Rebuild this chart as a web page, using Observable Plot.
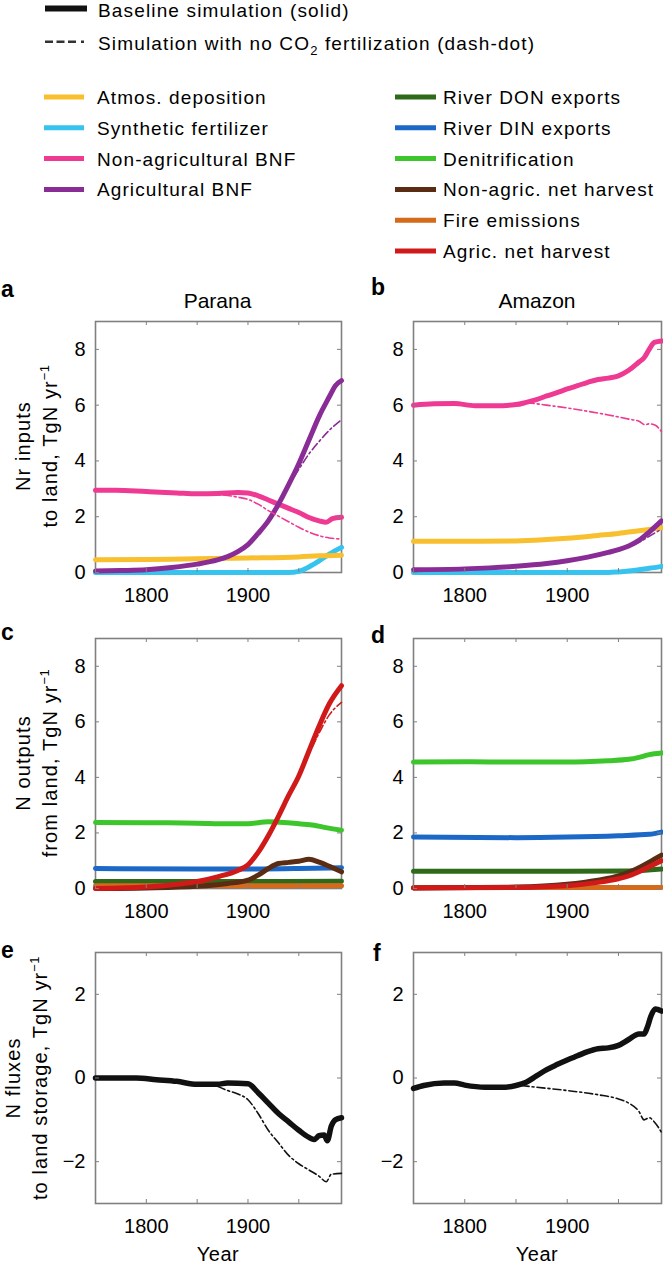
<!DOCTYPE html>
<html><head><meta charset="utf-8">
<script src="https://cdn.jsdelivr.net/npm/d3@7"></script>
<script src="https://cdn.jsdelivr.net/npm/@observablehq/plot@0.6"></script>
<style>
body{margin:0;background:#fff;}
#root{position:relative;width:663px;height:1265px;overflow:hidden;background:#fff;font-family:"Liberation Sans",Arial,Helvetica,sans-serif;color:#000;}
.panel{position:absolute;}
#overlay{position:absolute;left:0;top:0;pointer-events:none;}
</style></head><body><div id="root"></div>
<script>
// ---------- data (year, TgN/yr) ----------
const YEAR_DOMAIN = [1750, 1992];
const X_TICKS = [1750, 1800, 1850, 1900, 1950];
const X_LABELS = [1800, 1900];
const Y_TICKS_FLUX = [0, 2, 4, 6, 8];
const Y_TICKS_STORE = [-2, 0, 2];

// Panel a: Parana inputs
const paranaAtmDep = [[1750,0.46],[1800,0.47],[1850,0.49],[1900,0.52],[1950,0.56],[1970,0.6],[1992,0.62]];
const paranaSynFert = [[1750,0],[1900,0],[1940,0],[1950,0.04],[1960,0.2],[1970,0.42],[1980,0.66],[1992,0.9]];
const paranaNonAgBNF = [[1750,2.95],[1770,2.95],[1800,2.9],[1830,2.85],[1850,2.82],[1870,2.83],[1890,2.87],[1900,2.85],[1910,2.75],[1920,2.6],[1930,2.45],[1940,2.3],[1950,2.15],[1960,1.97],[1970,1.85],[1977,1.8],[1983,1.93],[1992,1.98]];
const paranaNonAgBNF_noCO2 = [[1860,2.82],[1870,2.8],[1880,2.76],[1890,2.7],[1900,2.62],[1910,2.45],[1920,2.22],[1930,2.02],[1940,1.82],[1950,1.62],[1960,1.45],[1970,1.32],[1980,1.24],[1992,1.2]];
const paranaAgBNF = [[1750,0.05],[1775,0.07],[1800,0.1],[1825,0.18],[1850,0.3],[1870,0.45],[1880,0.57],[1890,0.75],[1900,1.0],[1910,1.4],[1920,1.85],[1930,2.45],[1940,3.15],[1950,3.9],[1960,4.75],[1970,5.6],[1980,6.3],[1986,6.7],[1992,6.88]];
const paranaAgBNF_noCO2 = [[1930,2.45],[1940,3.1],[1950,3.7],[1960,4.25],[1970,4.7],[1980,5.1],[1992,5.48]];

// Panel b: Amazon inputs
const amazonAtmDep = [[1750,1.12],[1800,1.12],[1850,1.13],[1880,1.18],[1900,1.23],[1930,1.33],[1950,1.4],[1970,1.5],[1992,1.6]];
const amazonSynFert = [[1750,0],[1940,0],[1950,0.02],[1960,0.05],[1970,0.1],[1980,0.15],[1992,0.22]];
const amazonNonAgBNF = [[1750,6.0],[1770,6.05],[1790,6.06],[1810,5.98],[1830,5.98],[1850,6.02],[1860,6.1],[1870,6.2],[1880,6.33],[1890,6.45],[1900,6.58],[1910,6.7],[1920,6.82],[1930,6.92],[1940,6.97],[1950,7.05],[1960,7.25],[1970,7.55],[1975,7.7],[1980,8.0],[1985,8.25],[1992,8.3]];
const amazonNonAgBNF_noCO2 = [[1860,6.08],[1870,6.05],[1880,6.0],[1900,5.9],[1920,5.78],[1940,5.65],[1960,5.5],[1970,5.42],[1976,5.3],[1980,5.33],[1986,5.28],[1992,5.05]];
const amazonAgBNF = [[1750,0.1],[1800,0.13],[1850,0.22],[1880,0.32],[1900,0.42],[1920,0.55],[1940,0.72],[1950,0.82],[1960,0.95],[1970,1.15],[1980,1.45],[1992,1.85]];
const amazonAgBNF_noCO2 = [[1950,0.82],[1960,0.92],[1970,1.08],[1980,1.3],[1992,1.55]];

// Panel c: Parana outputs
const paranaDenit = [[1750,2.38],[1800,2.37],[1850,2.35],[1880,2.33],[1900,2.33],[1920,2.4],[1935,2.38],[1950,2.33],[1965,2.28],[1975,2.2],[1992,2.1]];
const paranaDIN = [[1750,0.72],[1850,0.7],[1900,0.7],[1950,0.72],[1992,0.75]];
const paranaDON = [[1750,0.25],[1900,0.25],[1992,0.26]];
const paranaFire = [[1750,0.1],[1900,0.1],[1992,0.1]];
const paranaNonAgHarv = [[1750,0],[1800,0.02],[1850,0.08],[1880,0.18],[1900,0.3],[1910,0.48],[1920,0.72],[1930,0.9],[1940,0.94],[1950,0.98],[1960,1.05],[1970,0.95],[1980,0.8],[1992,0.6]];
const paranaAgHarv = [[1750,0],[1800,0.05],[1830,0.15],[1850,0.25],[1870,0.42],[1890,0.65],[1900,0.85],[1910,1.3],[1920,1.9],[1930,2.6],[1940,3.35],[1950,4.05],[1960,4.95],[1970,5.85],[1980,6.65],[1992,7.3]];
const paranaAgHarv_noCO2 = [[1950,4.05],[1960,4.85],[1970,5.6],[1980,6.25],[1992,6.7]];

// Panel d: Amazon outputs
const amazonDenit = [[1750,4.55],[1800,4.56],[1850,4.55],[1900,4.55],[1940,4.6],[1960,4.65],[1970,4.72],[1980,4.82],[1992,4.88]];
const amazonDIN = [[1750,1.85],[1850,1.83],[1900,1.85],[1950,1.9],[1980,1.95],[1992,2.03]];
const amazonDON = [[1750,0.62],[1900,0.62],[1960,0.63],[1992,0.7]];
const amazonFire = [[1750,0.04],[1900,0.04],[1992,0.04]];
const amazonNonAgHarv = [[1750,0.02],[1850,0.05],[1900,0.15],[1930,0.3],[1950,0.45],[1960,0.58],[1970,0.75],[1980,0.95],[1992,1.2]];
const amazonAgHarv = [[1750,0.02],[1850,0.04],[1900,0.1],[1930,0.22],[1950,0.35],[1960,0.45],[1970,0.6],[1980,0.78],[1992,1.0]];

// Panel e: Parana storage
const paranaStorage = [[1750,0],[1770,0],[1790,0],[1810,-0.04],[1830,-0.08],[1850,-0.15],[1870,-0.15],[1880,-0.12],[1900,-0.14],[1910,-0.35],[1920,-0.6],[1930,-0.85],[1940,-1.05],[1950,-1.25],[1960,-1.42],[1965,-1.47],[1970,-1.38],[1975,-1.36],[1978,-1.5],[1982,-1.15],[1986,-1.0],[1992,-0.95]];
const paranaStorage_noCO2 = [[1870,-0.2],[1880,-0.3],[1890,-0.38],[1900,-0.52],[1910,-0.85],[1920,-1.25],[1930,-1.55],[1940,-1.85],[1950,-2.05],[1960,-2.2],[1970,-2.35],[1977,-2.48],[1982,-2.3],[1992,-2.28]];

// Panel f: Amazon storage
const amazonStorage = [[1750,-0.25],[1760,-0.18],[1780,-0.12],[1790,-0.12],[1800,-0.17],[1820,-0.22],[1840,-0.22],[1850,-0.18],[1860,-0.1],[1870,0.05],[1880,0.2],[1890,0.32],[1900,0.43],[1910,0.53],[1920,0.63],[1930,0.7],[1940,0.72],[1950,0.78],[1960,0.92],[1970,1.05],[1975,1.05],[1978,1.2],[1982,1.5],[1986,1.65],[1992,1.6]];
const amazonStorage_noCO2 = [[1855,-0.18],[1870,-0.22],[1900,-0.3],[1930,-0.4],[1950,-0.5],[1960,-0.6],[1970,-0.8],[1975,-1.0],[1980,-0.95],[1985,-1.05],[1992,-1.3]];

// ---------- style ----------
const FONT = '"Liberation Sans", Arial, Helvetica, sans-serif';
const C = {
  atm: "#F8C02F", syn: "#37C3F0", nab: "#EE3A92", ab: "#8A2C96",
  don: "#2F6A1A", din: "#1C68C7", den: "#3DC62C", nah: "#5B2C14",
  fire: "#D46A1C", ah: "#D01A1A", base: "#111111"
};
const FRAME = "#808080";

const panels = [
  {left:0, top:276, ml:95, fw:246, mr:4, mt:45, fh:251, mb:44, yDomain:[0,9], yTicks:Y_TICKS_FLUX,
   solid:[[paranaSynFert,C.syn],[paranaAtmDep,C.atm],[paranaNonAgBNF,C.nab],[paranaAgBNF,C.ab]],
   dashed:[[paranaNonAgBNF_noCO2,C.nab],[paranaAgBNF_noCO2,C.ab]]},
  {left:330, top:276, ml:83, fw:248, mr:2, mt:45, fh:251, mb:44, yDomain:[0,9], yTicks:Y_TICKS_FLUX,
   solid:[[amazonSynFert,C.syn],[amazonAtmDep,C.atm],[amazonNonAgBNF,C.nab],[amazonAgBNF,C.ab]],
   dashed:[[amazonNonAgBNF_noCO2,C.nab],[amazonAgBNF_noCO2,C.ab]]},
  {left:0, top:618, ml:95, fw:246, mr:4, mt:20, fh:250, mb:44, yDomain:[0,9], yTicks:Y_TICKS_FLUX,
   solid:[[paranaDON,C.don],[paranaFire,C.fire],[paranaDIN,C.din],[paranaDenit,C.den],[paranaNonAgHarv,C.nah],[paranaAgHarv,C.ah]],
   dashed:[[paranaAgHarv_noCO2,C.ah]]},
  {left:330, top:618, ml:83, fw:248, mr:2, mt:20, fh:250, mb:44, yDomain:[0,9], yTicks:Y_TICKS_FLUX,
   solid:[[amazonFire,C.fire],[amazonDON,C.don],[amazonDIN,C.din],[amazonDenit,C.den],[amazonNonAgHarv,C.nah],[amazonAgHarv,C.ah]],
   dashed:[]},
  {left:0, top:932, ml:95, fw:246, mr:4, mt:20, fh:251, mb:62, yDomain:[-3,3], yTicks:Y_TICKS_STORE,
   solid:[[paranaStorage,C.base]], dashed:[[paranaStorage_noCO2,C.base]], thick:5.5},
  {left:330, top:932, ml:83, fw:248, mr:2, mt:20, fh:251, mb:62, yDomain:[-3,3], yTicks:Y_TICKS_STORE,
   solid:[[amazonStorage,C.base]], dashed:[[amazonStorage_noCO2,C.base]], thick:5.5}
];

const root = document.getElementById("root");
const fmtY = d => d < 0 ? "\u2212" + Math.abs(d) : String(d);

for (const p of panels) {
  const sw = p.thick || 5;
  const marks = [Plot.frame({stroke: FRAME, strokeWidth: 1.6})];
  for (const [data, color] of p.solid) {
    marks.push(Plot.line(data, {x: d => d[0], y: d => d[1], stroke: color, strokeWidth: sw,
      curve: "monotone-x", strokeLinejoin: "round", strokeLinecap: "round"}));
  }
  for (const [data, color] of p.dashed) {
    marks.push(Plot.line(data, {x: d => d[0], y: d => d[1], stroke: color, strokeWidth: 1.6,
      curve: "monotone-x", strokeDasharray: "8,3,2,3"}));
  }
  marks.push(
    Plot.tickX(X_TICKS, {x: d => d, insetTop: p.fh - 4, stroke: FRAME, strokeWidth: 1}),
    Plot.tickX(X_TICKS, {x: d => d, insetBottom: p.fh - 4, stroke: FRAME, strokeWidth: 1}),
    Plot.tickY(p.yTicks, {y: d => d, insetRight: p.fw - 4, stroke: FRAME, strokeWidth: 1}),
    Plot.tickY(p.yTicks, {y: d => d, insetLeft: p.fw - 4, stroke: FRAME, strokeWidth: 1}),
    Plot.axisX({ticks: X_LABELS, tickSize: 0, tickPadding: 15, tickFormat: d => String(d), label: null, fontSize: 20}),
    Plot.axisY({ticks: p.yTicks, tickSize: 0, tickPadding: 10, tickFormat: fmtY, label: null, fontSize: 20})
  );
  const svg = Plot.plot({
    width: p.ml + p.fw + p.mr, height: p.mt + p.fh + p.mb,
    marginLeft: p.ml, marginRight: p.mr, marginTop: p.mt, marginBottom: p.mb,
    x: {domain: YEAR_DOMAIN}, y: {domain: p.yDomain},
    style: {fontFamily: FONT, fontSize: "20px", background: "transparent", overflow: "visible", color: "#000"},
    marks
  });
  svg.classList.add("panel");
  svg.style.left = p.left + "px";
  svg.style.top = p.top + "px";
  root.appendChild(svg);
}

// ---------- overlay: legend, titles, labels ----------
const ov = d3.select(root).append("svg").attr("id", "overlay")
  .attr("width", 663).attr("height", 1265)
  .style("font-family", FONT);

function txt(x, y, s, o = {}) {
  return ov.append("text").attr("x", x).attr("y", y)
    .attr("font-size", o.size || 19)
    .attr("font-weight", o.weight || null)
    .attr("text-anchor", o.anchor || "start")
    .attr("letter-spacing", o.ls == null ? null : o.ls)
    .attr("fill", "#000").text(s);
}

// legend: line styles
ov.append("line").attr("x1", 45).attr("x2", 87).attr("y1", 8.5).attr("y2", 8.5)
  .attr("stroke", C.base).attr("stroke-width", 6);
txt(98, 16.7, "Baseline simulation (solid)", {ls: 1.15});
ov.append("line").attr("x1", 45).attr("x2", 87).attr("y1", 41.7).attr("y2", 41.7)
  .attr("stroke", "#333").attr("stroke-width", 2.6).attr("stroke-dasharray", "8,3.5,8,3.5,8,5,3,3");
const t2 = txt(98, 49.5, "Simulation with no CO", {ls: 1.15});
t2.append("tspan").attr("dy", 5).attr("font-size", 13).text("2");
t2.append("tspan").attr("dy", -5).text(" fertilization (dash-dot)");

const legendLeft = [["Atmos. deposition", C.atm], ["Synthetic fertilizer", C.syn], ["Non-agricultural BNF", C.nab], ["Agricultural BNF", C.ab]];
const legendRight = [["River DON exports", C.don], ["River DIN exports", C.din], ["Denitrification", C.den], ["Non-agric. net harvest", C.nah], ["Fire emissions", C.fire], ["Agric. net harvest", C.ah]];
const rowY = i => 97 + 30.8 * i;
legendLeft.forEach(([name, col], i) => {
  ov.append("line").attr("x1", 44).attr("x2", 84).attr("y1", rowY(i)).attr("y2", rowY(i)).attr("stroke", col).attr("stroke-width", 5);
  txt(97, rowY(i) + 7, name, {ls: 1.1});
});
legendRight.forEach(([name, col], i) => {
  ov.append("line").attr("x1", 395).attr("x2", 436).attr("y1", rowY(i)).attr("y2", rowY(i)).attr("stroke", col).attr("stroke-width", 5);
  txt(443, rowY(i) + 7, name, {ls: 1.1});
});

// panel letters
[["a", 1, 297], ["b", 371, 295], ["c", 1, 640], ["d", 371, 643], ["e", 1, 958], ["f", 373, 961]]
  .forEach(([l, x, y]) => txt(x, y, l, {size: 23, weight: "bold"}));

// titles
txt(217.5, 308, "Parana", {size: 21, anchor: "middle"});
txt(537, 308, "Amazon", {size: 21, anchor: "middle"});

// x labels
txt(218, 1261, "Year", {size: 20, anchor: "middle", ls: 0.5});
txt(537, 1261, "Year", {size: 20, anchor: "middle", ls: 0.5});

// y labels (rotated, two lines)
function ylab(x1, x2, cy, line1, line2) {
  ov.append("text").attr("transform", `translate(${x1},${cy}) rotate(-90)`)
    .attr("text-anchor", "middle").attr("font-size", 20).attr("letter-spacing", 1.1).text(line1);
  const t = ov.append("text").attr("transform", `translate(${x2},${cy}) rotate(-90)`)
    .attr("text-anchor", "middle").attr("font-size", 20).attr("letter-spacing", 1.1).text(line2);
  t.append("tspan").attr("dy", -8).attr("font-size", 13).attr("letter-spacing", 0.5).text("\u22121");
}
ylab(30, 57, 446, "Nr inputs", "to land, TgN yr");
ylab(30, 57, 763, "N outputs", "from land, TgN yr");
ylab(20, 47, 1078, "N fluxes", "to land storage, TgN yr");
</script></body></html>
